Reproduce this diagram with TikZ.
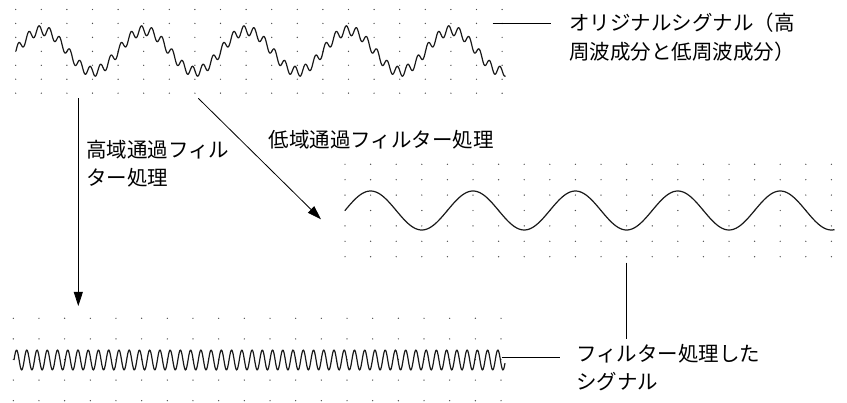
\documentclass[tikz,border=0pt]{standalone}
\usepackage{fontspec}
\newfontfamily\jpfont{Noto Sans CJK JP}
\usetikzlibrary{arrows.meta}

\begin{document}
\begin{tikzpicture}[x=1pt, y=-1pt,
      every node/.style={inner sep=0pt, anchor=north west, align=left,
        font=\jpfont\fontsize{20.5}{28.5}\selectfont},
      griddot/.style={fill=black!70},
      signal/.style={draw=black!90, line width=1.2pt, line join=round},
      leader/.style={draw, line width=0.8pt},
      flow/.style={draw, line width=0.8pt, -{Triangle[length=14pt,width=9pt]}}]
    \useasboundingbox (0,0) rectangle (847,403);
    \foreach \i in {0,...,19} {
        \foreach \j in {0,...,6} {
            \fill[griddot] (15.7+25.6*\i, 9.5+13.95*\j) circle (0.7pt);
            \fill[griddot] (345+25.6*\i, 164.3+15.4*\j) circle (0.7pt);
        }
        \foreach \j in {0,...,4} {
            \fill[griddot] (13.3+25.67*\i, 318.3+20.6*\j) circle (0.7pt);
        }
    }
    \draw[signal] plot[domain=16:505.5, samples=700]
        (\x, {51-20.5*sin((\x-16)/102.4*360)-5*sin(mod((\x-16)/10.24,1)*360)});
    \draw[signal] plot[domain=345:834.5, samples=300]
        (\x, {210.5-19.5*sin((\x-345)/102.4*360)});
    \draw[signal] plot[domain=14:505, samples=700]
        (\x, {360-10*sin(mod((\x-14)/10.24,1)*360)});
    \coordinate (hpfrom) at (78.3,98.3);
    \coordinate (hpto) at (78.3,306);
    \coordinate (lpfrom) at (198.3,98.3);
    \coordinate (lpto) at (321,219.3);
    \coordinate (origend) at (492.7,23.3);
    \coordinate (origtick) at (551,23.3);
    \coordinate (filtend) at (501.7,357.3);
    \coordinate (filttick) at (560,357.3);
    \coordinate (lowtop) at (626.7,262.7);
    \coordinate (lowbot) at (626.7,339.3);
    \node (origlabel) at (569,13) {オリジナルシグナル（高\\周波成分と低周波成分）};
    \node (hplabel) at (86,140) {高域通過フィル\\ター処理};
    \node (lplabel) at (268.5,130) {低域通過フィルター処理};
    \node (filtlabel) at (576,344) {フィルター処理した\\シグナル};
    \draw[flow] (hpfrom) -- (hpto);
    \draw[flow] (lpfrom) -- (lpto);
    \draw[leader] (origend) -- (origtick);
    \draw[leader] (filtend) -- (filttick);
    \draw[leader] (lowtop) -- (lowbot);
\end{tikzpicture}
\end{document}
